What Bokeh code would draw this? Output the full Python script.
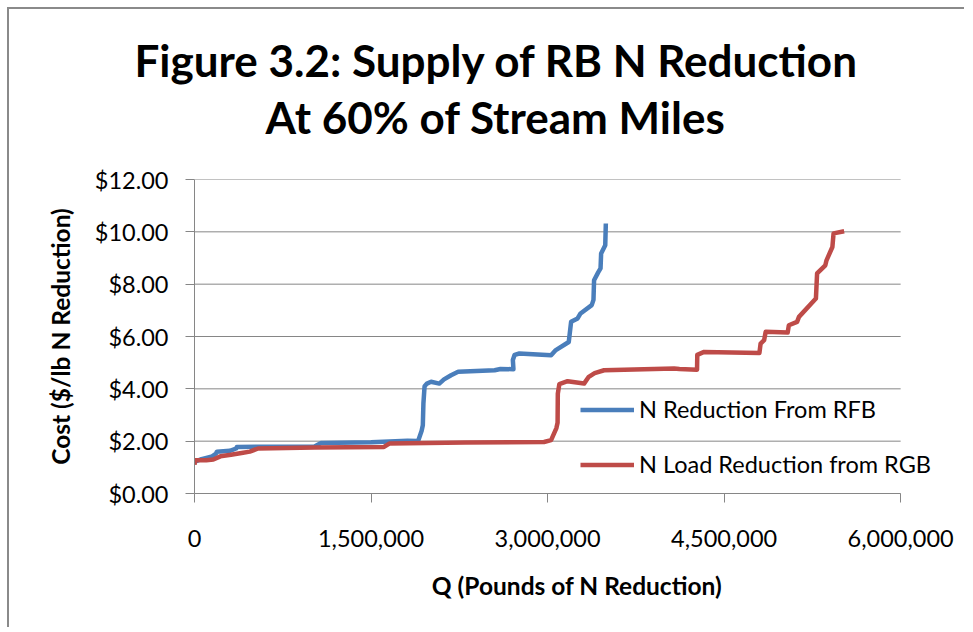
from bokeh.plotting import figure
from bokeh.models import (Range1d, FixedTicker, NumeralTickFormatter, Title, Legend, LegendItem)
from bokeh.embed import file_html
from bokeh.resources import INLINE

# ---- data ----
rfb_q = [0, 50000, 85000, 150000, 184000, 190000, 300000, 354000, 360000, 600000,
         1020000, 1075000, 1500000, 1810000, 1900000, 1930000, 1940000, 1945000,
         1955000, 1975000, 2010000, 2080000, 2120000, 2180000, 2240000, 2550000,
         2600000, 2710000, 2705000, 2720000, 2760000, 3030000, 3070000, 3180000,
         3200000, 3255000, 3280000, 3375000, 3390000, 3395000, 3430000, 3450000,
         3455000, 3490000, 3495000]
rfb_cost = [1.21, 1.30, 1.34, 1.42, 1.53, 1.60, 1.63, 1.72, 1.78, 1.79,
            1.80, 1.93, 1.96, 2.02, 2.01, 2.40, 2.61, 3.44,
            4.10, 4.20, 4.27, 4.20, 4.36, 4.52, 4.65, 4.71,
            4.76, 4.75, 5.10, 5.30, 5.35, 5.28, 5.48, 5.79,
            6.56, 6.69, 6.88, 7.20, 7.40, 8.15, 8.45, 8.60,
            9.17, 9.49, 10.32]

rgb_q = [0, 5000, 100000, 160000, 220000, 310000, 400000, 470000, 540000, 1020000,
         1610000, 1655000, 2300000, 2970000, 3030000, 3075000, 3085000, 3087000,
         3100000, 3170000, 3310000, 3350000, 3400000, 3480000, 4075000, 4120000,
         4270000, 4272000, 4330000, 4800000, 4810000, 4840000, 4853000, 5040000,
         5050000, 5120000, 5136000, 5280000, 5290000, 5360000, 5370000, 5420000,
         5430000, 5520000]
rgb_cost = [1.10, 1.27, 1.27, 1.30, 1.42, 1.48, 1.55, 1.60, 1.72, 1.76,
            1.78, 1.91, 1.95, 1.97, 2.04, 2.50, 2.70, 3.82,
            4.18, 4.29, 4.20, 4.46, 4.60, 4.71, 4.78, 4.76,
            4.73, 5.30, 5.41, 5.37, 5.73, 5.86, 6.18, 6.15,
            6.43, 6.56, 6.75, 7.45, 8.41, 8.72, 8.91, 9.42,
            9.94, 10.02]

x_ticks = [0, 1500000, 3000000, 4500000, 6000000]
y_ticks = [0, 2, 4, 6, 8, 10, 12]
x_axis_max = 6000000

title_line1 = "Figure 3.2: Supply of RB N Reduction"
title_line2 = "At 60% of Stream Miles"
x_title = "Q (Pounds of N Reduction)"
y_title = "Cost ($/lb N Reduction)"
series_names = ["N Reduction From RFB", "N Load Reduction from RGB"]
series_colors = ["#4A7EBB", "#BE4B48"]

FONT = "Lato"
GRID = "#868686"

# frame extends a bit past the last x tick so the legend text is not clipped
p = figure(width=957, height=620, output_backend="svg", toolbar_location=None,
           x_range=Range1d(0, 6500000), y_range=Range1d(0, 12),
           min_border_left=185, min_border_right=7, min_border_top=170,
           min_border_bottom=136, title=None)
p.styles = {"border-left": "2px solid #8a8a8a", "border-top": "2px solid #8a8a8a",
            "margin-left": "7px", "margin-top": "7px"}
p.outline_line_color = None
p.background_fill_color = "white"
p.border_fill_color = "white"

# titles
t2 = Title(text=title_line2, align="left", offset=71, standoff=74,
           text_font=FONT, text_font_style="bold", text_font_size="44px", text_color="black")
t1 = Title(text=title_line1, align="left", offset=-60, standoff=-69,
           text_font=FONT, text_font_style="bold", text_font_size="44px", text_color="black")
p.add_layout(t2, "above")
p.add_layout(t1, "above")

# axes
p.xaxis.ticker = FixedTicker(ticks=x_ticks)
p.yaxis.ticker = FixedTicker(ticks=y_ticks)
p.xaxis.bounds = (0, x_axis_max)
p.xaxis.formatter = NumeralTickFormatter(format="0,0")
p.yaxis.formatter = NumeralTickFormatter(format="$0.00")
for ax in (p.xaxis[0], p.yaxis[0]):
    ax.axis_line_color = GRID
    ax.major_tick_line_color = GRID
    ax.major_tick_out = 9
    ax.major_tick_in = 0
    ax.minor_tick_line_color = None
    ax.major_label_text_font = FONT
    ax.major_label_text_font_size = "23.5px"
    ax.major_label_text_color = "black"
    ax.axis_label_text_font = FONT
    ax.axis_label_text_font_style = "bold"
    ax.axis_label_text_font_size = "24.5px"
    ax.axis_label_text_color = "black"
p.xaxis.axis_label = x_title
p.yaxis.axis_label = y_title
p.xaxis.major_label_standoff = 27
p.yaxis.major_label_standoff = 17
p.xaxis.axis_label_standoff = 21
p.yaxis.axis_label_standoff = 17

# horizontal gridlines limited to the axis extent
p.xgrid.grid_line_color = None
p.ygrid.grid_line_color = None
p.segment(x0=[0] * len(y_ticks), y0=y_ticks, x1=[x_axis_max] * len(y_ticks), y1=y_ticks,
          line_color=GRID, line_width=1, level="underlay")

r1 = p.line(rfb_q, rfb_cost, line_color=series_colors[0], line_width=4.5, line_join="round")
r2 = p.line(rgb_q, rgb_cost, line_color=series_colors[1], line_width=4.5, line_join="round")

legend = Legend(items=[LegendItem(label=series_names[0], renderers=[r1]),
                       LegendItem(label=series_names[1], renderers=[r2])],
                location=(386, 15), orientation="vertical",
                glyph_width=54, glyph_height=27, label_height=27, label_standoff=5,
                spacing=27, padding=0, margin=0,
                background_fill_alpha=0, border_line_color=None,
                label_text_font=FONT, label_text_font_size="23.5px", label_text_color="black")
p.add_layout(legend, "center")

open("out.html", "w").write(file_html(p, INLINE))
